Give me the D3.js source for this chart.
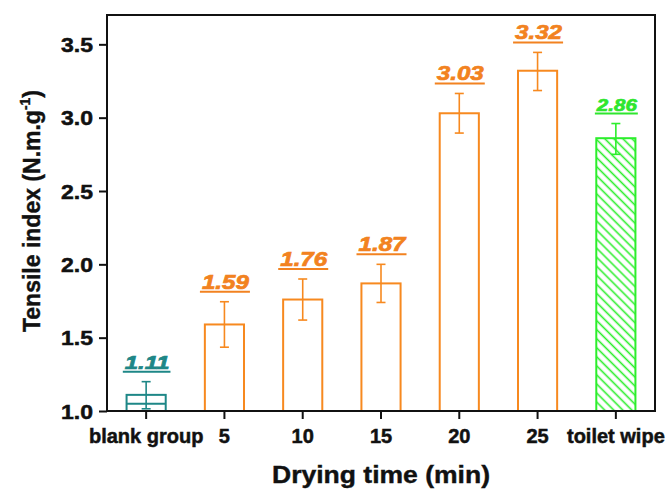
<!DOCTYPE html>
<html>
<head>
<meta charset="utf-8">
<script src="https://cdn.jsdelivr.net/npm/d3@7"></script>
<style>
  html, body { margin: 0; padding: 0; background: #fff; }
  svg text { font-family: Arial, "Liberation Sans", Helvetica, sans-serif; }
</style>
</head>
<body>
<svg id="chart" width="670" height="489"></svg>
<script>
// ---- data ----
const categories = ["blank group", "5", "10", "15", "20", "25", "toilet wipe"];
const values     = [1.11, 1.59, 1.76, 1.87, 3.03, 3.32, 2.86];
const errUp      = [0.09, 0.155, 0.14, 0.13, 0.135, 0.125, 0.10];
const errDown    = [0.095, 0.155, 0.14, 0.13, 0.135, 0.135, 0.11];
const labels     = ["1.11", "1.59", "1.76", "1.87", "3.03", "3.32", "2.86"];
const groupType  = ["blank", "dry", "dry", "dry", "dry", "dry", "wipe"];
const blankInnerLine = 1.05;
const yTicks = [1.0, 1.5, 2.0, 2.5, 3.0, 3.5];
const yDomain = [1.0, 3.70];

// ---- styles ----
const colors = { blank: "#1e8787", dry: "#f7891f", wipe: "#2cee2c" };
const labelColors = { blank: "#1e8787", dry: "#f28220", wipe: "#2ee62e" };
const labelSizes = { blank: 19, dry: 20, wipe: 17 };

const W = 670, H = 489;
const margin = { top: 15, right: 15, bottom: 78, left: 107 };
const svg = d3.select("#chart");

const x = d3.scaleBand().domain(categories)
  .range([margin.left, W - margin.right])
  .paddingInner(0.5).paddingOuter(0.25);
const y = d3.scaleLinear().domain(yDomain).range([H - margin.bottom, margin.top]);

// hatch pattern
const defs = svg.append("defs");
const pat = defs.append("pattern").attr("id", "hatch")
  .attr("patternUnits", "userSpaceOnUse")
  .attr("width", 6.4).attr("height", 6.4)
  .attr("patternTransform", "rotate(45)");
pat.append("line").attr("x1", -1).attr("x2", 8).attr("y1", 3.2).attr("y2", 3.2)
  .attr("stroke", colors.wipe).attr("stroke-width", 1.6);

// bars
const g = svg.append("g");
categories.forEach((c, i) => {
  const t = groupType[i];
  const bx = x(c), bw = x.bandwidth();
  g.append("rect")
    .attr("x", bx).attr("y", y(values[i]))
    .attr("width", bw).attr("height", y(yDomain[0]) - y(values[i]))
    .attr("fill", t === "wipe" ? "url(#hatch)" : "none")
    .attr("stroke", colors[t]).attr("stroke-width", 2);
  if (t === "blank") {
    g.append("line").attr("x1", bx).attr("x2", bx + bw)
      .attr("y1", y(blankInnerLine)).attr("y2", y(blankInnerLine))
      .attr("stroke", colors[t]).attr("stroke-width", 2);
  }
  // error bars
  const cx = bx + bw / 2;
  const top = y(values[i] + errUp[i]), bot = y(values[i] - errDown[i]);
  const capW = 4.5;
  g.append("line").attr("x1", cx).attr("x2", cx).attr("y1", top).attr("y2", bot)
    .attr("stroke", colors[t]).attr("stroke-width", 1.6);
  [top, bot].forEach(yy => {
    g.append("line").attr("x1", cx - capW).attr("x2", cx + capW).attr("y1", yy).attr("y2", yy)
      .attr("stroke", colors[t]).attr("stroke-width", 1.6);
  });
  // value label, underlined
  const ul = top - 10;
  g.append("text")
    .attr("x", cx + 1).attr("y", ul - 3)
    .attr("text-anchor", "middle")
    .attr("font-size", labelSizes[t]).attr("font-weight", "bold").attr("font-style", "italic")
    .attr("fill", labelColors[t])
    .attr("stroke", labelColors[t]).attr("stroke-width", 0.7)
    .attr("textLength", labelSizes[t] * 2.35).attr("lengthAdjust", "spacingAndGlyphs")
    .text(labels[i]);
  const tw = labelSizes[t] * 2.35 + 2;
  g.append("line").attr("x1", cx - tw / 2).attr("x2", cx + tw / 2 + 1)
    .attr("y1", ul).attr("y2", ul)
    .attr("stroke", labelColors[t]).attr("stroke-width", 2);
});

// frame
svg.append("rect")
  .attr("x", margin.left).attr("y", margin.top)
  .attr("width", W - margin.left - margin.right)
  .attr("height", H - margin.top - margin.bottom)
  .attr("fill", "none").attr("stroke", "#111").attr("stroke-width", 2);

// axes
const yAxis = svg.append("g")
  .attr("transform", `translate(${margin.left},0)`)
  .call(d3.axisLeft(y).tickValues(yTicks).tickFormat(d3.format(".1f")).tickSize(8).tickPadding(6));
const xAxis = svg.append("g")
  .attr("transform", `translate(0,${H - margin.bottom})`)
  .call(d3.axisBottom(x).tickSize(8).tickPadding(6));
[yAxis, xAxis].forEach(a => {
  a.select(".domain").remove();
  a.selectAll(".tick line").attr("stroke", "#111").attr("stroke-width", 2);
  a.selectAll(".tick text").attr("fill", "#111").attr("font-weight", "bold")
    .attr("stroke", "#111").attr("stroke-width", 0.5)
    .attr("font-family", "Arial, 'Liberation Sans', sans-serif");
});
yAxis.selectAll(".tick text").attr("font-size", 20).attr("dy", "0.35em")
  .attr("textLength", 32).attr("lengthAdjust", "spacingAndGlyphs");
xAxis.selectAll(".tick text").attr("font-size", 20).attr("dy", "0.9em");

// axis titles
svg.append("text")
  .attr("x", 381).attr("y", 483)
  .attr("text-anchor", "middle").attr("font-size", 23).attr("font-weight", "bold")
  .attr("fill", "#111").attr("stroke", "#111").attr("stroke-width", 0.4)
  .attr("textLength", 218).attr("lengthAdjust", "spacingAndGlyphs")
  .text("Drying time (min)");

const yt = svg.append("text")
  .attr("transform", "translate(40,211) rotate(-90)")
  .attr("text-anchor", "middle").attr("font-size", 23).attr("font-weight", "bold")
  .attr("fill", "#111").attr("stroke", "#111").attr("stroke-width", 0.4);
yt.append("tspan").text("Tensile index (N.m.g");
yt.append("tspan").attr("font-size", 14).attr("dy", -10).text("-1");
yt.append("tspan").attr("dy", 10).text(")");
</script>
</body>
</html>
